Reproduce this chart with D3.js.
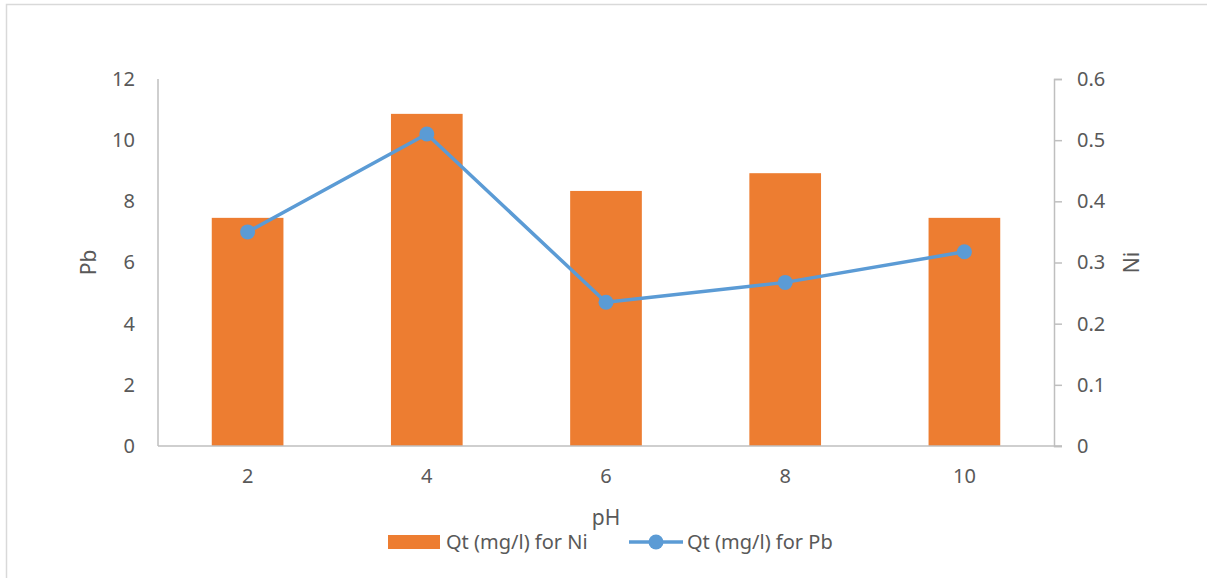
<!DOCTYPE html>
<html><head><meta charset="utf-8">
<script src="https://cdn.jsdelivr.net/npm/d3@7"></script>
<style>
html,body{margin:0;padding:0;background:#fff;}
svg text{font-family:"Segoe UI","Noto Sans","Open Sans",sans-serif;fill:#595959;}
</style></head>
<body>
<svg id="c" width="1207" height="578"></svg>
<script>
const categories = ["2","4","6","8","10"];
const niValues = [0.373, 0.543, 0.417, 0.446, 0.373];
const pbValues = [7.0, 10.2, 4.7, 5.35, 6.35];
const leftTicks = [0,2,4,6,8,10,12];
const rightTicks = [0,0.1,0.2,0.3,0.4,0.5,0.6];
const seriesNames = ["Qt (mg/l) for Ni","Qt (mg/l) for Pb"];

const svg = d3.select("#c");
const W = 1207, H = 578;
const pL = 158, pR = 1054, pT = 79, pB = 446;
const orange = "#ED7D31", blue = "#5B9BD5", axisCol = "#BFBFBF";
const fs = 20;

// chart border
svg.append("path").attr("d", `M6.5,${H} V4.5 H${W}`).attr("fill","none")
  .attr("stroke","#D9D9D9").attr("stroke-width",1.5);

const x = d3.scaleBand().domain(categories).range([pL, pR]).padding(0);
const yL = d3.scaleLinear().domain([0,12]).range([pB, pT]);
const yR = d3.scaleLinear().domain([0,0.6]).range([pB, pT]);
const bw = x.bandwidth()*0.4;

// bars (Ni, right axis)
svg.append("g").selectAll("rect").data(categories).join("rect")
  .attr("x", d => x(d) + x.bandwidth()/2 - bw/2)
  .attr("y", (d,i) => yR(niValues[i]))
  .attr("width", bw)
  .attr("height", (d,i) => pB - yR(niValues[i]))
  .attr("fill", orange);

// axes lines
svg.append("line").attr("x1",pL).attr("x2",pL).attr("y1",pT).attr("y2",pB)
  .attr("stroke",axisCol).attr("stroke-width",1.5);
svg.append("line").attr("x1",pL).attr("x2",pR+8).attr("y1",pB).attr("y2",pB)
  .attr("stroke",axisCol).attr("stroke-width",1.5);

// left axis
const gL = svg.append("g").attr("transform",`translate(${pL},0)`)
  .call(d3.axisLeft(yL).tickValues(leftTicks).tickSize(0).tickPadding(23).tickFormat(d3.format("d")));
gL.select(".domain").remove();
gL.selectAll("text").attr("font-size",fs).attr("fill","#595959");

// right axis
const gR = svg.append("g").attr("transform",`translate(${pR},0)`)
  .call(d3.axisRight(yR).tickValues(rightTicks).tickSize(8).tickPadding(15).tickFormat(d => d===0 ? "0" : d3.format(".1f")(d)));
gR.select(".domain").attr("stroke",axisCol).attr("stroke-width",1.5);
gR.selectAll(".tick line").attr("stroke",axisCol).attr("stroke-width",1.5);
gR.selectAll("text").attr("font-size",fs).attr("fill","#595959");

// x axis labels
const gX = svg.append("g").attr("transform",`translate(0,${pB})`)
  .call(d3.axisBottom(x).tickSize(0).tickPadding(23));
gX.select(".domain").remove();
gX.selectAll("text").attr("font-size",fs).attr("fill","#595959");

// line (Pb, left axis)
const line = d3.line().x((d,i) => x(categories[i]) + x.bandwidth()/2).y(d => yL(d));
svg.append("path").datum(pbValues).attr("d", line).attr("fill","none")
  .attr("stroke", blue).attr("stroke-width",3.5).attr("stroke-linejoin","round");
svg.append("g").selectAll("circle").data(pbValues).join("circle")
  .attr("cx",(d,i) => x(categories[i]) + x.bandwidth()/2)
  .attr("cy", d => yL(d)).attr("r",7.5).attr("fill",blue);

// axis titles
svg.append("text").attr("transform",`translate(96,${(pT+pB)/2}) rotate(-90)`)
  .attr("text-anchor","middle").attr("font-size",fs+1).text("Pb");
svg.append("text").attr("transform",`translate(1139,${(pT+pB)/2}) rotate(-90)`)
  .attr("text-anchor","middle").attr("font-size",fs+1).text("Ni");
svg.append("text").attr("x",(pL+pR)/2).attr("y",525)
  .attr("text-anchor","middle").attr("font-size",fs+1).text("pH");

// legend
const lg = svg.append("g");
lg.append("rect").attr("x",388).attr("y",535).attr("width",52).attr("height",14).attr("fill",orange);
lg.append("text").attr("x",446).attr("y",549).attr("font-size",fs).text(seriesNames[0]);
lg.append("line").attr("x1",629).attr("x2",683).attr("y1",542).attr("y2",542)
  .attr("stroke",blue).attr("stroke-width",3.5);
lg.append("circle").attr("cx",656).attr("cy",542).attr("r",7.5).attr("fill",blue);
lg.append("text").attr("x",687).attr("y",549).attr("font-size",fs).text(seriesNames[1]);
</script>
</body></html>
